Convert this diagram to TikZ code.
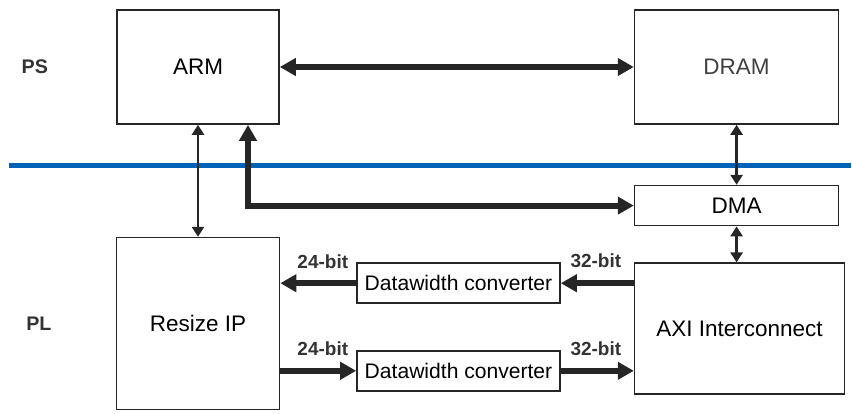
\documentclass[tikz,border=0pt]{standalone}
\usepackage{fontspec}
\setmainfont{Liberation Sans}
\usetikzlibrary{
		calc,
		positioning,
		arrows.meta
	}
\definecolor{psblue}{RGB}{0,99,183}
\definecolor{arrowgray}{RGB}{38,38,38}
\tikzset{
		>=Triangle
	}

\begin{document}
\begin{tikzpicture}[-,auto,node distance=10mm]
	\tikzstyle{point}=[coordinate]
	\tikzstyle{block}=[draw=black!85, rectangle, line width=0.4mm, inner sep=0pt, font=\fontsize{16}{19}\selectfont]
	\tikzstyle{converter}=[block, minimum width=50.75mm, minimum height=10mm, font=\fontsize{15}{18}\selectfont]
	\tikzstyle{zone}=[inner sep=0pt, text=black!80, font=\fontsize{14}{17}\selectfont\bfseries]
	\tikzstyle{bitlabel}=[inner sep=0pt, text=black!80, font=\fontsize{13.5}{16}\selectfont\bfseries]
	\tikzstyle{bus}=[line width=1.5mm, draw=arrowgray, >={Triangle[length=4mm,width=4.25mm]}]
	\tikzstyle{link}=[line width=0.65mm, draw=arrowgray, >={Triangle[length=2.5mm,width=3mm]}]
	\tikzstyle{divider}=[line width=1.3mm, draw=psblue]
	\useasboundingbox (-49.5mm,16.75mm) rectangle ++(213mm,-103.25mm);
	% Blocks
	\node[block, minimum width=40.5mm, minimum height=28.5mm] (ARM) {ARM};
	\node[block, minimum width=51mm, minimum height=28.5mm, text=black!75] (DRAM) [right = 88.5mm of ARM] {DRAM};
	\node[block, minimum width=51mm, minimum height=10mm] (DMA) [below = 15mm of DRAM] {DMA};
	\node[block, minimum width=40.75mm, minimum height=43mm] (RIP) [below = 28mm of ARM] {Resize IP};
	\node[block, minimum width=52.5mm, minimum height=32.75mm] (AXI) [below = 9mm of DMA.south west, anchor=north west] {AXI Interconnect};
	\node[converter] (DWC1) [left = 18.25mm of AXI.north west, anchor=north east] {Datawidth converter};
	\node[converter] (DWC2) [below = 11.5mm of DWC1] {Datawidth converter};
	% Zones
	\node[zone] (PS) [left = 17mm of ARM] {PS};
	\node[zone] (PL) [left = 16mm of RIP] {PL};
	\node[point] (b0) [below left = 10.25mm and 26.75mm of ARM.south west] {};
	\draw[divider] (b0) -- ++(210.5mm,0);
	% Points
	\node[point] (p0) [right = 12.5mm of ARM.south] {};
	% Thin lines
	\draw[link, <->] (ARM.south) -- (ARM.south |- RIP.north);
	\draw[link, <->] (DRAM) -- (DMA);
	\draw[link, <->] (DMA.south) -- (DMA.south |- AXI.north);
	% Thick lines
	\draw[bus, <->] (ARM) -- (DRAM);
	\draw[bus, <->] (DMA.west) -| (p0);
	\draw[bus, ->] (DWC1.east -| AXI.west) -- (DWC1.east) node[pos=0.52, above=3mm, bitlabel] {32-bit};
	\draw[bus, ->] (DWC1.west) -- (DWC1.west -| RIP.east) node[pos=0.44, above=3mm, bitlabel] {24-bit};
	\draw[bus, ->] (DWC2.west -| RIP.east) -- (DWC2.west) node[pos=0.56, above=3mm, bitlabel] {24-bit};
	\draw[bus, ->] (DWC2.east) -- (DWC2.east -| AXI.west) node[pos=0.48, above=3mm, bitlabel] {32-bit};
\end{tikzpicture}
\end{document}
